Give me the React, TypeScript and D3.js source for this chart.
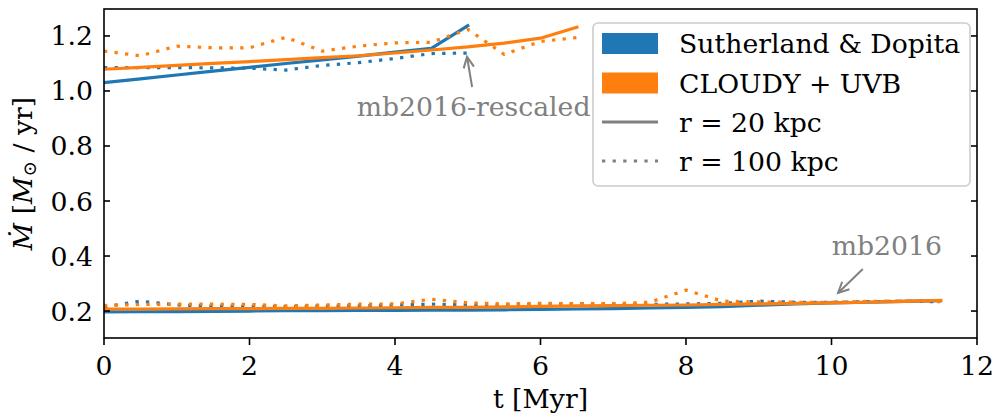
import React from "react";
import * as d3 from "d3";

const W = 996;
const H = 419;

// ---------- data ----------
const tUpperSD = [0, 0.5, 1, 1.5, 2, 2.5, 3, 3.5, 4, 4.5, 5];
const sdUpper20 = [1.03, 1.044, 1.058, 1.072, 1.086, 1.1, 1.113, 1.127, 1.141, 1.155, 1.237];
const sdUpper100 = [1.085, 1.085, 1.085, 1.084, 1.083, 1.076, 1.093, 1.103, 1.118, 1.136, 1.138];

const tUpperCl = [0, 0.5, 1, 1.5, 2, 2.5, 3, 3.5, 4, 4.5, 5, 5.5, 6, 6.5];
const clUpper20 = [1.079, 1.086, 1.093, 1.1, 1.107, 1.114, 1.121, 1.128, 1.138, 1.149, 1.16, 1.174, 1.192, 1.232];
const clUpper100 = [1.145, 1.128, 1.163, 1.157, 1.157, 1.195, 1.145, 1.163, 1.175, 1.177, 1.224, 1.133, 1.18, 1.194];

const tLower = [0, 0.5, 1, 1.5, 2, 2.5, 3, 3.5, 4, 4.5, 5, 5.5, 6, 6.5, 7, 7.5, 8, 8.5, 9, 9.5, 10, 10.5, 11, 11.5];
const sdLower20 = [0.197, 0.1975, 0.198, 0.199, 0.2, 0.201, 0.2015, 0.202, 0.2025, 0.203, 0.203, 0.2045, 0.206, 0.2075, 0.209, 0.211, 0.213, 0.216, 0.221, 0.226, 0.23, 0.232, 0.235, 0.238];
const sdLower100 = [0.215, 0.236, 0.222, 0.218, 0.217, 0.216, 0.218, 0.219, 0.222, 0.225, 0.222, 0.222, 0.225, 0.227, 0.225, 0.224, 0.226, 0.228, 0.236, 0.232, 0.232, 0.234, 0.236, 0.234];
const clLower20 = [0.207, 0.2075, 0.208, 0.2085, 0.209, 0.2095, 0.21, 0.211, 0.212, 0.213, 0.2135, 0.215, 0.217, 0.2185, 0.22, 0.221, 0.222, 0.224, 0.226, 0.228, 0.23, 0.232, 0.235, 0.239];
const clLower100 = [0.22, 0.224, 0.225, 0.225, 0.224, 0.219, 0.222, 0.225, 0.226, 0.243, 0.23, 0.226, 0.228, 0.227, 0.227, 0.232, 0.276, 0.236, 0.233, 0.232, 0.232, 0.235, 0.237, 0.234];

const xTicks = [0, 2, 4, 6, 8, 10, 12];
const yTicks = [0.2, 0.4, 0.6, 0.8, 1.0, 1.2];

const legendLabels = ["Sutherland & Dopita", "CLOUDY + UVB", "r = 20 kpc", "r = 100 kpc"];

// annotations in data units
const annTexts = ["mb2016-rescaled", "mb2016"];
const annHeadT = [4.99, 10.09];
const annHeadM = [1.124, 0.2655];
const annTailT = [5.06, 10.43];
const annTailM = [1.0145, 0.3527];
const annTextT = [5.08, 10.76];
const annTextM = [0.91, 0.405];

const BLUE = "#1f77b4";
const ORANGE = "#ff7f0e";
const GRAY = "#808080";
const FONT = "DejaVu Serif";
const FS = 26.7;

export default function App() {
  const left = 104, right = 977, top = 9, bottom = 338;
  const x = d3.scaleLinear().domain([0, 12]).range([left, right]);
  const y = d3.scaleLinear().domain([0.102, 1.298]).range([bottom, top]);

  const mk = (ts: number[], vs: number[]) =>
    d3.line<number>().x((_, i) => x(ts[i])).y((d) => y(d))(vs) || "";

  const dotted = "3.3 7.3";
  const series = [
    { d: mk(tLower, sdLower20), c: BLUE, dash: null },
    { d: mk(tLower, sdLower100), c: BLUE, dash: dotted },
    { d: mk(tUpperSD, sdUpper20), c: BLUE, dash: null },
    { d: mk(tUpperSD, sdUpper100), c: BLUE, dash: dotted },
    { d: mk(tLower, clLower20), c: ORANGE, dash: null },
    { d: mk(tLower, clLower100), c: ORANGE, dash: dotted },
    { d: mk(tUpperCl, clUpper20), c: ORANGE, dash: null },
    { d: mk(tUpperCl, clUpper100), c: ORANGE, dash: dotted },
  ];

  const arrows = annTexts.map((t, i) => {
    const hx = x(annHeadT[i]), hy = y(annHeadM[i]);
    const tx = x(annTailT[i]), ty = y(annTailM[i]);
    const ang = Math.atan2(hy - ty, hx - tx);
    const L = 12, spread = 0.45;
    const a1x = hx - L * Math.cos(ang - spread), a1y = hy - L * Math.sin(ang - spread);
    const a2x = hx - L * Math.cos(ang + spread), a2y = hy - L * Math.sin(ang + spread);
    return { t, hx, hy, tx, ty, a1x, a1y, a2x, a2y, lx: x(annTextT[i]), ly: y(annTextM[i]) };
  });

  const legX = 593, legY = 23, legW = 377, legH = 163;
  const rowY = [43.5, 83, 122, 161];

  return (
    <svg width={W} height={H} style={{ position: "absolute", left: 0, top: 0, background: "#fff" }} fontFamily={FONT}>
      <defs>
        <clipPath id="plotclip">
          <rect x={left} y={top} width={right - left} height={bottom - top} />
        </clipPath>
      </defs>
      <rect x={0} y={0} width={W} height={H} fill="#fff" />
      <g clipPath="url(#plotclip)">
        {series.map((s, i) => (
          <path key={i} d={s.d} fill="none" stroke={s.c} strokeWidth={3.2}
            strokeDasharray={s.dash || undefined}
            strokeLinecap={s.dash ? "butt" : "square"} strokeLinejoin="round" />
        ))}
      </g>
      {arrows.map((a, i) => (
        <g key={i}>
          <line x1={a.tx} y1={a.ty} x2={a.hx} y2={a.hy} stroke={GRAY} strokeWidth={2} />
          <polyline points={`${a.a1x},${a.a1y} ${a.hx},${a.hy} ${a.a2x},${a.a2y}`} fill="none" stroke={GRAY} strokeWidth={2} />
          <text x={a.lx} y={a.ly} fill={GRAY} fontSize={FS} textAnchor="middle">{a.t}</text>
        </g>
      ))}
      <rect x={left} y={top} width={right - left} height={bottom - top} fill="none" stroke="#000" strokeWidth={1.6} />
      {xTicks.map((t) => (
        <g key={"x" + t}>
          <line x1={x(t)} x2={x(t)} y1={bottom} y2={bottom + 7} stroke="#000" strokeWidth={1.6} />
          <text x={x(t)} y={375} fontSize={FS} textAnchor="middle">{t}</text>
        </g>
      ))}
      {yTicks.map((t) => (
        <g key={"y" + t}>
          <line x1={left} x2={left + 6} y1={y(t)} y2={y(t)} stroke="#000" strokeWidth={1.6} />
          <line x1={right - 6} x2={right} y1={y(t)} y2={y(t)} stroke="#000" strokeWidth={1.6} />
          <text x={93} y={y(t)} fontSize={FS} textAnchor="end" dominantBaseline="central">{t.toFixed(1)}</text>
        </g>
      ))}
      <text x={(left + right) / 2} y={408} fontSize={FS} textAnchor="middle">t [Myr]</text>
      <text transform={`translate(31.5,${(top + bottom) / 2}) rotate(-90)`} fontSize={FS} textAnchor="middle">
        <tspan fontStyle="italic">Ṁ</tspan>
        <tspan> [</tspan>
        <tspan fontStyle="italic">M</tspan>
        <tspan fontSize={18.5} dy={4}>⊙</tspan>
        <tspan dy={-4}> / yr]</tspan>
      </text>
      <rect x={legX} y={legY} width={legW} height={legH} rx={5} fill="#fff" fillOpacity={0.8} stroke="#cccccc" strokeWidth={1.6} />
      <rect x={602} y={rowY[0] - 10.5} width={56} height={21} fill={BLUE} />
      <rect x={602} y={rowY[1] - 10.5} width={56} height={21} fill={ORANGE} />
      <line x1={602} x2={658} y1={rowY[2]} y2={rowY[2]} stroke={GRAY} strokeWidth={3.2} />
      <line x1={602} x2={658} y1={rowY[3]} y2={rowY[3]} stroke={GRAY} strokeWidth={3.2} strokeDasharray={dotted} />
      {legendLabels.map((l, i) => (
        <text key={l} x={679} y={rowY[i]} fontSize={FS} dominantBaseline="central">{l}</text>
      ))}
    </svg>
  );
}
